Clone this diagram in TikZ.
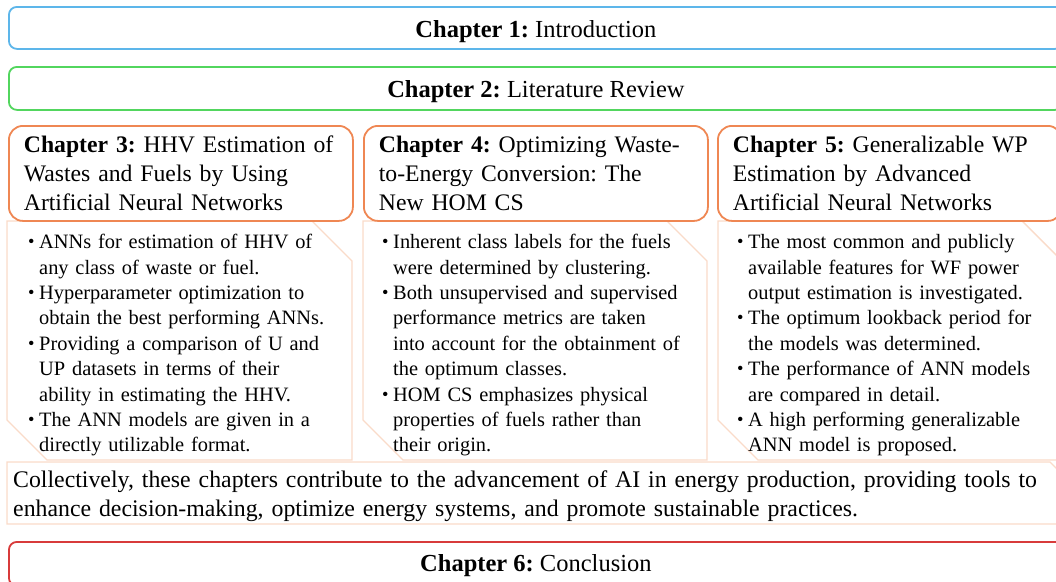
\documentclass[tikz,border=0pt]{standalone}
\usepackage{fontspec}
\setmainfont{Liberation Serif}
\definecolor{introblue}{HTML}{5DB6EA}
\definecolor{revgreen}{HTML}{52D65E}
\definecolor{chaporange}{HTML}{EF8753}
\definecolor{panelpeach}{HTML}{FADBC9}
\definecolor{concred}{HTML}{D83B3B}
% bullet item with hanging indent
\newcommand\bpt[1]{\par\hangindent=11pt\hangafter=1\noindent\makebox[11pt][l]{\raisebox{1pt}{\scalebox{0.9}{•}}}#1\par}
\begin{document}
\frenchspacing
\begin{tikzpicture}[x=1pt,y=-1pt,
  widebox/.style={draw, line width=1.8pt, rounded corners=8pt, fill=white,
    minimum width=1054pt, minimum height=42pt, anchor=north west, inner sep=0pt,
    text height=19pt, text depth=0pt,
    font=\fontsize{24.5}{29}\selectfont\frenchspacing},
  chapbox/.style={draw=chaporange, line width=1.8pt, rounded corners=14pt, fill=white,
    minimum width=344pt, minimum height=95pt, text width=314pt, inner xsep=15pt,
    inner ysep=0pt, align=left, anchor=north west,
    font=\fontsize{23.7}{29}\selectfont\frenchspacing},
  panel/.style={draw=panelpeach, line width=1.4pt, fill=white},
  pointtext/.style={anchor=north west, inner sep=0pt, text width=325pt, align=left,
    font=\fontsize{20.4}{25.4}\selectfont\frenchspacing}
]
\useasboundingbox (0,0) rectangle (1056,581);
\clip (0,0) rectangle (1056,581);

% chapter 1 and 2
\node[widebox, draw=introblue] (ch1) at (8,6) {\textbf{Chapter 1:} Introduction};
\node[widebox, draw=revgreen, minimum height=43pt] (ch2) at (8,66) {\textbf{Chapter 2:} Literature Review};

% snipped panels holding the key points
\draw[panel] (7,221) -- (312,221) -- (352,261) -- (352,460) -- (47,460) -- (7,420) -- cycle;
\draw[panel] (363,221) -- (667,221) -- (707,261) -- (707,460) -- (403,460) -- (363,420) -- cycle;
\draw[panel] (718,221) -- (1022,221) -- (1062,261) -- (1062,460) -- (758,460) -- (718,420) -- cycle;

% chapter 3 to 5 headers
\node[chapbox] (ch3) at (8,125) {\textbf{Chapter 3:} HHV Estimation of\\Wastes and Fuels by Using\\Artificial Neural Networks};
\node[chapbox] (ch4) at (363,125) {\textbf{Chapter 4:} Optimizing Waste-\\to-Energy Conversion: The\\New HOM CS};
\node[chapbox] (ch5) at (717,125) {\textbf{Chapter 5:} Generalizable WP\\Estimation by Advanced\\Artificial Neural Networks};

% key points
\node[pointtext] (p3) at (28,223) {%
\bpt{ANNs for estimation of HHV of\newline any class of waste or fuel.}
\bpt{Hyperparameter optimization to\newline obtain the best performing ANNs.}
\bpt{Providing a comparison of U and\newline UP datasets in terms of their\newline ability in estimating the HHV.}
\bpt{The ANN models are given in a\newline directly utilizable format.}};
\node[pointtext] (p4) at (382,223) {%
\bpt{Inherent class labels for the fuels\newline were determined by clustering.}
\bpt{Both unsupervised and supervised\newline performance metrics are taken\newline into account for the obtainment of\newline the optimum classes.}
\bpt{HOM CS emphasizes physical\newline properties of fuels rather than\newline their origin.}};
\node[pointtext] (p5) at (737,223) {%
\bpt{The most common and publicly\newline available features for WF power\newline output estimation is investigated.}
\bpt{The optimum lookback period for\newline the models was determined.}
\bpt{The performance of ANN models\newline are compared in detail.}
\bpt{A high performing generalizable\newline ANN model is proposed.}};

% summary strip
\draw[panel] (7,462) -- (1050,462) -- (1090,502) -- (1090,524) -- (7,524) -- cycle;
\node[anchor=north west, inner sep=0pt, text width=1040pt, align=left,
  font=\fontsize{23.8}{29}\selectfont\frenchspacing] (sum) at (13,471)
  {Collectively, these chapters contribute to the advancement of AI in energy production, providing tools to\\enhance decision-making, optimize energy systems, and promote sustainable practices.};

% chapter 6
\node[widebox, draw=concred, minimum height=44pt, text height=15pt] (ch6) at (8,541) {\textbf{Chapter 6:} Conclusion};
\end{tikzpicture}
\end{document}
